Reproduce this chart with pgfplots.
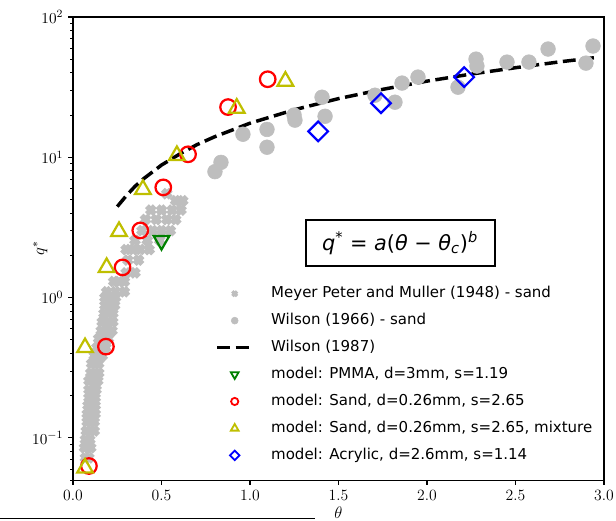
\documentclass[border=0pt]{standalone}
\usepackage{pgfplots}
\pgfplotsset{compat=1.18}
\usepackage{fontspec}
\newfontfamily\dejavu{DejaVu Sans}
\definecolor{pg}{RGB}{190,190,190}
\definecolor{my}{RGB}{191,191,0}
\definecolor{mg}{RGB}{0,128,0}
\pgfdeclareplotmark{Xf}{%
  \pgfpathmoveto{\pgfqpoint{-0.354\pgfplotmarksize}{1.061\pgfplotmarksize}}%
  \pgfpathlineto{\pgfqpoint{0pt}{0.707\pgfplotmarksize}}%
  \pgfpathlineto{\pgfqpoint{0.354\pgfplotmarksize}{1.061\pgfplotmarksize}}%
  \pgfpathlineto{\pgfqpoint{1.061\pgfplotmarksize}{0.354\pgfplotmarksize}}%
  \pgfpathlineto{\pgfqpoint{0.707\pgfplotmarksize}{0pt}}%
  \pgfpathlineto{\pgfqpoint{1.061\pgfplotmarksize}{-0.354\pgfplotmarksize}}%
  \pgfpathlineto{\pgfqpoint{0.354\pgfplotmarksize}{-1.061\pgfplotmarksize}}%
  \pgfpathlineto{\pgfqpoint{0pt}{-0.707\pgfplotmarksize}}%
  \pgfpathlineto{\pgfqpoint{-0.354\pgfplotmarksize}{-1.061\pgfplotmarksize}}%
  \pgfpathlineto{\pgfqpoint{-1.061\pgfplotmarksize}{-0.354\pgfplotmarksize}}%
  \pgfpathlineto{\pgfqpoint{-0.707\pgfplotmarksize}{0pt}}%
  \pgfpathlineto{\pgfqpoint{-1.061\pgfplotmarksize}{0.354\pgfplotmarksize}}%
  \pgfpathclose
  \pgfusepathqfill
}
\pgfplotstableread{
t q
0.07 0.072
0.09 0.072
0.065 0.085
0.085 0.085
0.10 0.085
0.07 0.097
0.095 0.097
0.075 0.112
0.10 0.112
0.12 0.112
0.08 0.13
0.105 0.13
0.12 0.13
0.08 0.148
0.10 0.148
0.125 0.148
0.085 0.17
0.11 0.17
0.125 0.17
0.09 0.193
0.11 0.193
0.125 0.193
0.09 0.22
0.115 0.22
0.13 0.22
0.09 0.255
0.115 0.255
0.14 0.255
0.10 0.29
0.125 0.29
0.145 0.29
0.105 0.338
0.125 0.338
0.145 0.338
0.12 0.385
0.145 0.385
0.165 0.385
0.135 0.44
0.16 0.44
0.185 0.44
0.145 0.51
0.17 0.51
0.20 0.51
0.16 0.58
0.19 0.58
0.22 0.58
0.165 0.67
0.20 0.67
0.225 0.67
0.175 0.77
0.20 0.77
0.225 0.77
0.18 0.88
0.205 0.88
0.235 0.88
0.18 1.0
0.21 1.0
0.24 1.0
0.19 1.1
0.24 1.1
0.29 1.1
0.23 1.3
0.26 1.3
0.29 1.3
0.30 1.5
0.35 1.5
0.31 1.85
0.37 1.85
0.30 2.2
0.34 2.2
0.38 2.2
0.43 2.2
0.35 2.56
0.42 2.56
0.49 2.56
0.39 3.0
0.45 3.0
0.50 3.0
0.55 3.0
0.41 3.6
0.47 3.6
0.53 3.6
0.58 3.6
0.44 4.2
0.50 4.2
0.56 4.2
0.61 4.2
0.58 4.9
0.62 4.9
0.53 5.5
}\mpm
\pgfplotstableread{
t q
0.802 7.9
0.836 9.2
0.96 14.6
1.096 15.8
1.096 11.8
1.254 18.4
1.249 20.0
1.407 26.8
1.424 19.6
1.706 27.7
1.819 24.7
1.859 33.8
1.949 37.3
2.175 31.6
2.277 50.1
2.282 44.7
2.452 47.7
2.576 47.7
2.684 59.1
2.898 46.9
2.938 62.1
3.006 72.0
}\wilsonsix
\pgfplotstableread{
t q
0.25 4.45
0.30 5.3
0.35 6.2
0.40 7.05
0.50 8.8
0.60 10.5
0.70 12.3
0.80 14.0
1.00 17.5
1.25 21.8
1.50 26.2
1.75 30.5
2.00 34.9
2.25 39.2
2.50 43.5
2.75 47.9
2.97 51.7
}\wilsoneight
\pgfplotstableread{
t q
0.09 0.063
0.186 0.447
0.28 1.64
0.38 3.01
0.51 6.1
0.65 10.5
0.876 22.8
1.10 36.0
}\sand
\pgfplotstableread{
t q
0.068 0.061
0.068 0.44
0.19 1.64
0.26 2.96
0.395 5.9
0.587 10.3
0.925 22.4
1.20 34.9
}\mix
\pgfplotstableread{
t q
0.50 2.55
}\pmma
\pgfplotstableread{
t q
1.385 15.3
1.74 24.3
2.21 37.3
}\acry
\begin{document}
\begin{tikzpicture}
\begin{axis}[
  scale only axis, width=382.3pt, height=333.4pt,
  ymode=log, xmin=0, xmax=3, ymin=0.05, ymax=100,
  xtick={0,0.5,1,1.5,2,2.5,3},
  xticklabels={0.0,0.5,1.0,1.5,2.0,2.5,3.0},
  xtick pos=bottom, ytick pos=left,
  tick align=outside,
  major tick length=3.5pt, minor tick length=2pt,
  every tick/.style={black, line width=0.8pt},
  minor tick style={line width=0.6pt},
  axis line style={line width=0.8pt},
  ticklabel style={font=\fontsize{11.3}{13}\selectfont},
  xlabel={$\theta$}, ylabel={$q^{*}$},
  label style={font=\fontsize{12}{14}\selectfont},
  xlabel style={at={(axis description cs:0.5,-0.0713)}, anchor=center},
  ylabel style={at={(axis description cs:-0.062,0.5)}, anchor=center, rotate=0},
  legend style={draw=none, fill=none, at={(0.268,0.422)}, anchor=north west,
    inner sep=0pt, font=\dejavu\fontsize{10.8}{13}\selectfont,
    row sep=6.8pt, column sep=11.5pt,
    nodes={inner sep=1pt, text height=8pt, text depth=2.6pt}},
  legend cell align=left,
  legend image code/.code={\draw[mark repeat=2,mark phase=2,#1] plot coordinates {(0cm,0cm) (0.44cm,0cm) (0.88cm,0cm)};},
]
\addlegendimage{only marks, mark=Xf, mark size=2.4pt, color=pg}
\addlegendentry{Meyer Peter and Muller (1948) - sand}
\addlegendimage{only marks, mark=*, mark size=2.5pt, color=pg}
\addlegendentry{Wilson (1966) - sand}
\addlegendimage{black, line width=2.5pt, dash pattern=on 9.25pt off 4pt}
\addlegendentry{Wilson (1987)}
\addlegendimage{only marks, mark=triangle, mark size=3.2pt, color=mg, mark options={line width=1.3pt, rotate=180}}
\addlegendentry{model: PMMA, d=3mm, s=1.19}
\addlegendimage{only marks, mark=o, mark size=2.6pt, color=red, mark options={line width=1.3pt}}
\addlegendentry{model: Sand, d=0.26mm, s=2.65}
\addlegendimage{only marks, mark=triangle, mark size=3.2pt, color=my, mark options={line width=1.3pt}}
\addlegendentry{model: Sand, d=0.26mm, s=2.65, mixture}
\addlegendimage{only marks, mark=square, mark size=2.4pt, color=blue, mark options={line width=1.3pt, rotate=45}}
\addlegendentry{model: Acrylic, d=2.6mm, s=1.14}

\addplot[forget plot, only marks, mark=Xf, mark size=4pt, color=pg] table[x=t,y=q] {\mpm};
\addplot[forget plot, only marks, mark=*, mark size=5.3pt, color=pg] table[x=t,y=q] {\wilsonsix};
\addplot[forget plot, black, line width=2.5pt, dash pattern=on 9.25pt off 4pt] table[x=t,y=q] {\wilsoneight};
\addplot[forget plot, only marks, mark=triangle, mark size=6.5pt, color=mg, mark options={line width=1.6pt, rotate=180}] table[x=t,y=q] {\pmma};
\addplot[forget plot, only marks, mark=o, mark size=5.6pt, color=red, mark options={line width=1.6pt}] table[x=t,y=q] {\sand};
\addplot[forget plot, only marks, mark=triangle, mark size=6.5pt, color=my, mark options={line width=1.6pt}] table[x=t,y=q] {\mix};
\addplot[forget plot, only marks, mark=square, mark size=5pt, color=blue, mark options={line width=1.6pt, rotate=45}] table[x=t,y=q] {\acry};

\node[draw=black, line width=1.5pt, minimum width=136pt, minimum height=33pt, inner sep=2pt,
  font=\dejavu\fontsize{15}{17}\selectfont] at (rel axis cs:0.616,0.512)
  {\textit{q}\textsuperscript{*} = \textit{a}(\textit{θ} − \textit{θ}\textsubscript{\textit{c}})\textsuperscript{\textit{b}}};
\end{axis}
\pgfresetboundingbox
\useasboundingbox ([shift={(-52.56pt,-28.8pt)}]current axis.south west) rectangle ([shift={(8.64pt,12.24pt)}]current axis.north east);
\draw[line width=1.1pt] ([shift={(-52.56pt,-27.7pt)}]current axis.south west) -- ++(226.8pt,0pt);
\end{tikzpicture}
\end{document}
